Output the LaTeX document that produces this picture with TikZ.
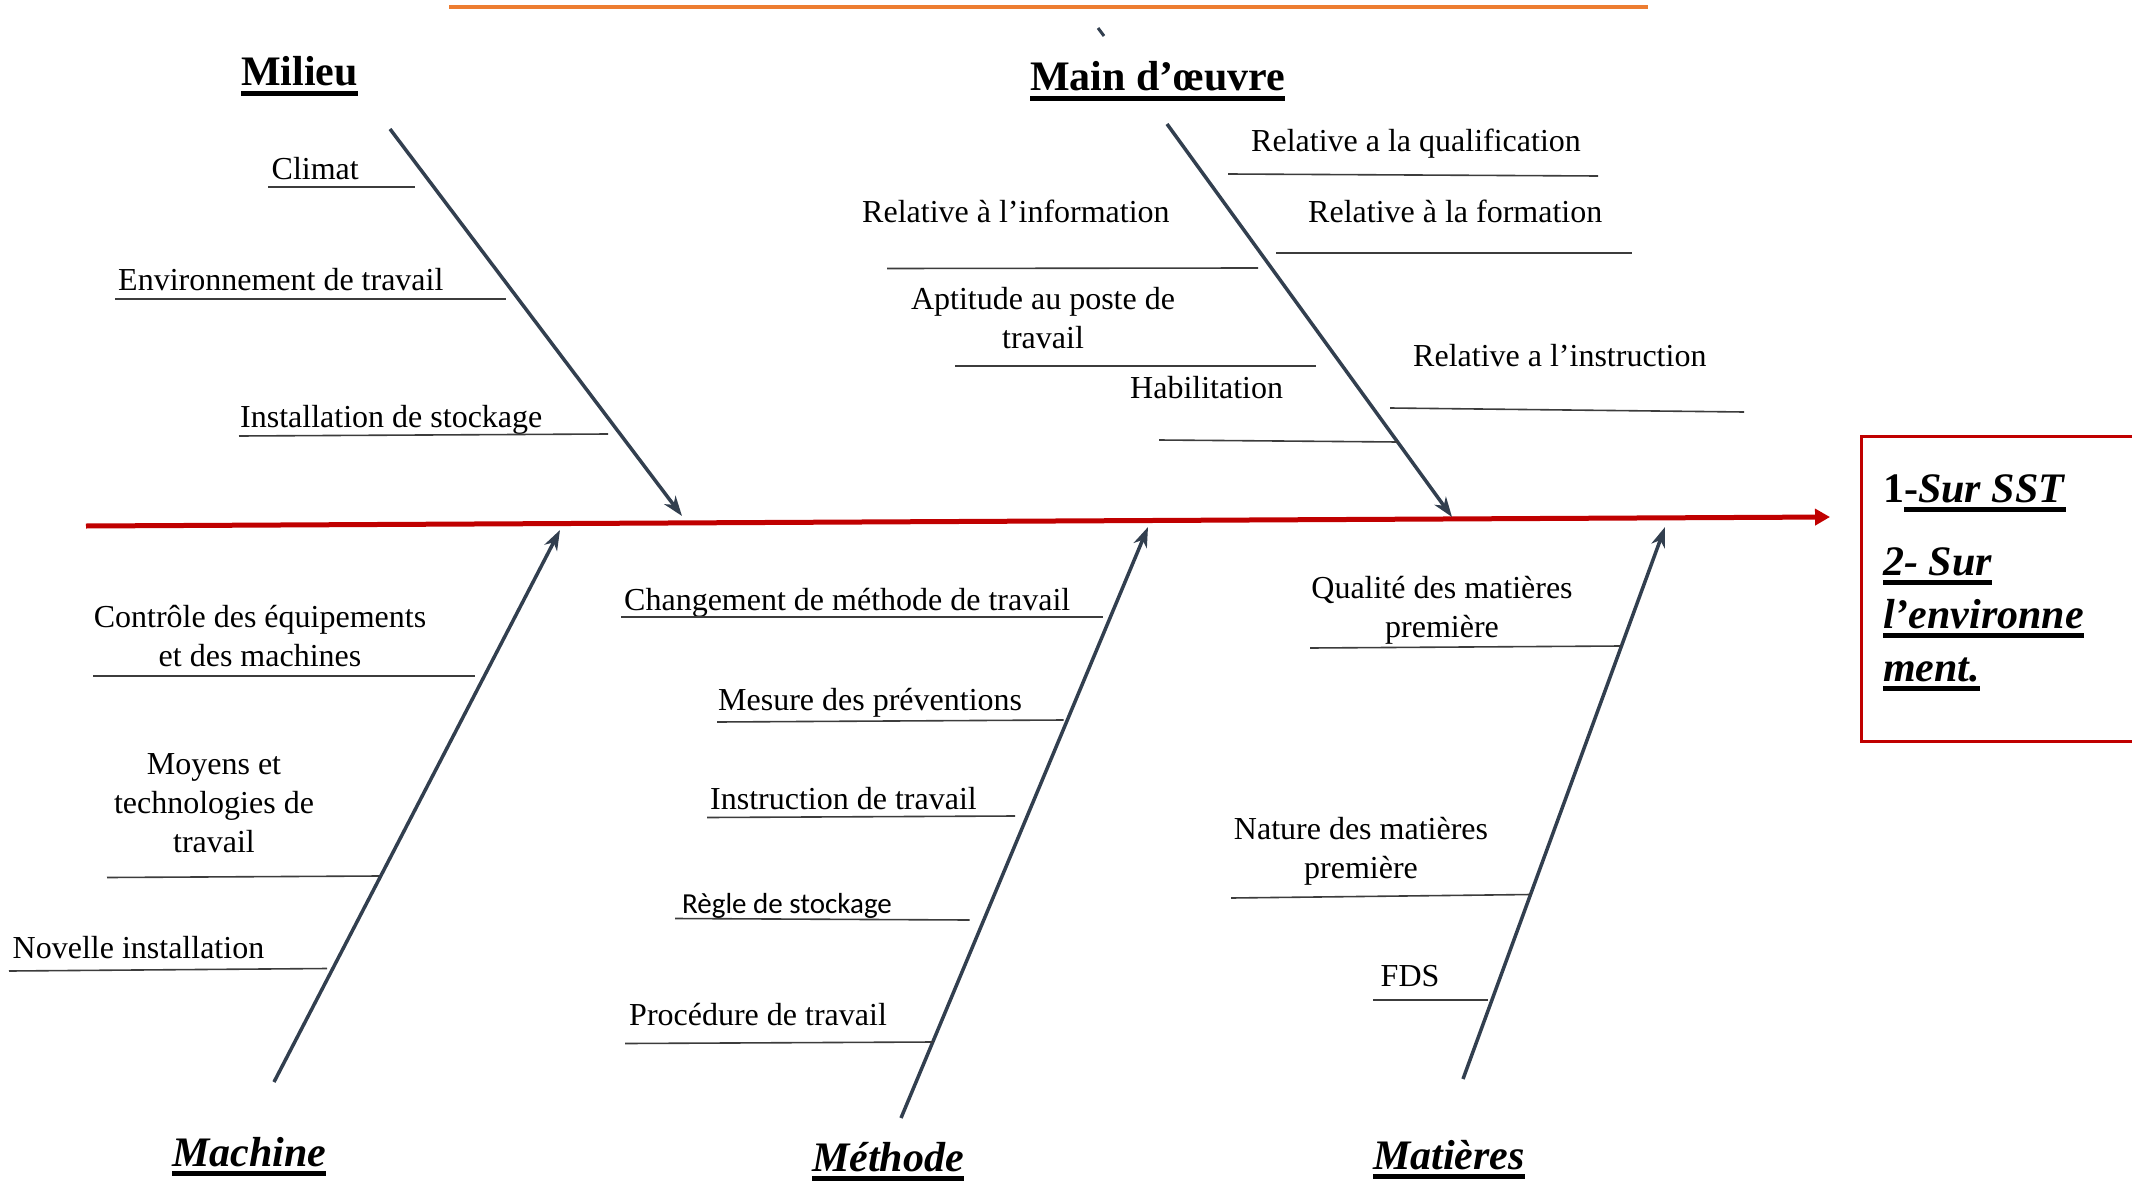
\documentclass[tikz,border=0pt]{standalone}
\usepackage{fontspec}
\setmainfont{Liberation Serif}
\newfontfamily\calibri{Carlito}
\usetikzlibrary{arrows.meta}
\definecolor{spinered}{RGB}{192,0,0}
\definecolor{boneblue}{RGB}{50,63,79}
\definecolor{accentorange}{RGB}{237,125,49}
\definecolor{twiggray}{RGB}{60,60,60}
% thick underline drawn below the baseline
\newcommand\thickul[1]{\leavevmode\setbox0=\hbox{#1}\rlap{\vrule height -5pt depth 10pt width \wd0}\box0}
\tikzset{
  cause/.style={inner sep=0pt, yshift=-1.5pt, font=\fontsize{32}{39}\selectfont, anchor=base west},
  causeml/.style={inner sep=0pt, yshift=-1.5pt, font=\fontsize{32}{39}\selectfont, anchor=base},
  heading/.style={inner sep=0pt, font=\fontsize{42}{50}\selectfont\bfseries, anchor=base west},
  twig/.style={draw=twiggray, line width=1.6pt},
  bonearrow/.style={draw=boneblue, line width=3.5pt, -{Stealth[length=20pt,width=14pt,inset=6pt]}},
  spinearrow/.style={draw=spinered, line width=5pt, -{Triangle[length=15pt,width=16pt]}},
}
\begin{document}
\begin{tikzpicture}[x=1pt,y=-1pt]
\useasboundingbox (0,0) rectangle (2132,1182);

% top accent rule and small tick
\draw[accentorange, line width=4pt] (449,7) -- (1648,7);
\draw[boneblue, line width=3pt] (1098,28) -- (1104,36);

% main spine
\coordinate (tail) at (86,526);
\coordinate (head) at (1830,517);
\draw[spinearrow] (tail) -- (head);

% effect box (open on the right edge)
\draw[spinered, line width=3pt] (2132,436) -- (1861,436) -- (1861,741) -- (2132,741);
\node[heading, font=\fontsize{42}{53}\selectfont\bfseries] (effect) at (1883,502)
  {\begin{tabular}[t]{@{}l@{}}1\thickul{-\textit{Sur SST}}\\[20pt]
   \thickul{\textit{2- Sur}}\\
   \thickul{\textit{l’environne}}\\
   \thickul{\textit{ment.}}\end{tabular}};

% category headings
\node[heading] (milieu) at (241,86) {\thickul{Milieu}};
\node[heading] (mainoeuvre) at (1030,91) {\thickul{Main d’œuvre}};
\node[heading] (machine) at (172,1166) {\thickul{\itshape Machine}};
\node[heading] (methode) at (812,1171) {\thickul{\itshape Méthode}};
\node[heading] (matieres) at (1373,1169) {\thickul{\itshape Matières}};

% bones
\coordinate (milieuA) at (390,129);   \coordinate (milieuB) at (682,516);
\coordinate (mainA) at (1167,124);    \coordinate (mainB) at (1452,517);
\coordinate (machineA) at (274,1082); \coordinate (machineB) at (560,530);
\coordinate (methodeA) at (901,1118); \coordinate (methodeB) at (1148,527);
\coordinate (matA) at (1463,1079);    \coordinate (matB) at (1665,527);
\draw[bonearrow] (milieuA) -- (milieuB);
\draw[bonearrow] (mainA) -- (mainB);
\draw[bonearrow] (machineA) -- (machineB);
\draw[bonearrow] (methodeA) -- (methodeB);
\draw[bonearrow] (matA) -- (matB);

% Milieu causes
\node[cause] (climat) at (271.5,178) {Climat};
\draw[twig] (268,187) -- (415,187);
\node[cause] (envtrav) at (118,289) {Environnement de travail};
\draw[twig] (115,299) -- (506,299);
\node[cause] (stock) at (240,426) {Installation de stockage};
\draw[twig] (239,436) -- (608,434);

% Main d'oeuvre causes
\node[cause] (info) at (862,221) {Relative à l’information};
\draw[twig] (887,268.5) -- (1258,268);
\node[causeml] (aptitude) at (1043,308) {\begin{tabular}[t]{@{}c@{}}Aptitude au poste de\\travail\end{tabular}};
\draw[twig] (955,366) -- (1316,366);
\node[cause] (habil) at (1130,397) {Habilitation};
\draw[twig] (1159,440) -- (1398,442);
\node[cause] (qualif) at (1251,150) {Relative a la qualification};
\draw[twig] (1228,174) -- (1598,176);
\node[cause] (formation) at (1308,221) {Relative à la formation};
\draw[twig] (1276,253) -- (1632,253);
\node[cause] (instr) at (1413,365) {Relative a l’instruction};
\draw[twig] (1390,408) -- (1744,412);

% Machine causes
\node[causeml] (controle) at (260,626) {\begin{tabular}[t]{@{}c@{}}Contrôle des équipements\\et des machines\end{tabular}};
\draw[twig] (93,676) -- (475,676);
\node[causeml] (moyens) at (214,773) {\begin{tabular}[t]{@{}c@{}}Moyens et\\technologies de\\travail\end{tabular}};
\draw[twig] (107,877.5) -- (379,876);
\node[cause] (novelle) at (12.5,957) {Novelle installation};
\draw[twig] (9,971) -- (327,968.5);

% Methode causes
\node[cause] (changement) at (624,609) {Changement de méthode de travail};
\draw[twig] (621,617) -- (1103,617);
\node[cause] (mesure) at (718,709) {Mesure des préventions};
\draw[twig] (717,722) -- (1063.5,720);
\node[cause] (instrtrav) at (710,808) {Instruction de travail};
\draw[twig] (707,817.5) -- (1015,816);
\node[cause, font=\calibri\fontsize{29}{35}\selectfont] (regle) at (682,912) {Règle de stockage};
\draw[twig] (675,918.5) -- (969.5,920);
\node[cause] (procedure) at (629,1024) {Procédure de travail};
\draw[twig] (625,1043.5) -- (933,1042);

% Matieres causes
\node[causeml] (qualite) at (1442,597) {\begin{tabular}[t]{@{}c@{}}Qualité des matières\\première\end{tabular}};
\draw[twig] (1310,648) -- (1621,646);
\node[causeml] (nature) at (1361,838) {\begin{tabular}[t]{@{}c@{}}Nature des matières\\première\end{tabular}};
\draw[twig] (1231,898) -- (1531,894.5);
\node[cause] (fds) at (1380.5,985) {FDS};
\draw[twig] (1373,1000) -- (1488,1000);
\end{tikzpicture}
\end{document}
